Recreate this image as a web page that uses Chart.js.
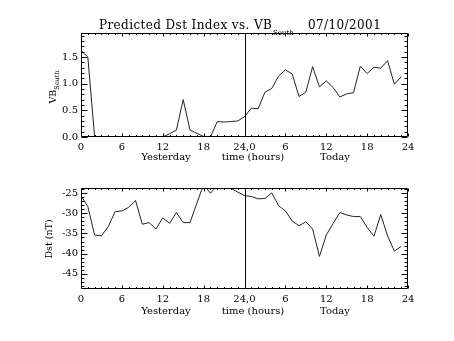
<!DOCTYPE html>
<html>
<head>
<meta charset="utf-8">
<script src="https://cdn.jsdelivr.net/npm/chart.js@4.4.1/dist/chart.umd.min.js"></script>
<style>
  body { margin: 0; background: #fff; width: 454px; height: 341px; overflow: hidden; position: relative; font-family: "DejaVu Serif", serif; color: #000; }
  .pane { position: absolute; left: 0; }
  .t { position: absolute; white-space: nowrap; line-height: 1; }
  .mid { transform: translateX(-50%); }
  .rot { transform: translate(-50%, -50%) rotate(-90deg); }
  .ttl { font-size: 12px; letter-spacing: 0.4px; }
</style>
</head>
<body>
<canvas id="vb" class="pane" style="top:0" width="454" height="170"></canvas>
<canvas id="dst" class="pane" style="top:170px" width="454" height="171"></canvas>

<div class="t ttl" style="left:99px;top:19px">Predicted Dst Index vs. VB</div>
<div class="t" style="left:273px;top:30px;font-size:7px">South</div>
<div class="t ttl" style="left:308px;top:19px">07/10/2001</div>

<div class="t rot" style="left:53px;top:87px;font-size:9.5px">VB<span style="font-size:6.5px;position:relative;top:3px">South</span></div>
<div class="t rot" style="left:49px;top:239px;font-size:9.5px">Dst (nT)</div>

<div class="t mid" style="left:166px;top:152px;font-size:10px">Yesterday</div>
<div class="t mid" style="left:253px;top:152px;font-size:10px">time (hours)</div>
<div class="t mid" style="left:335px;top:152px;font-size:10px">Today</div>
<div class="t mid" style="left:166px;top:306px;font-size:10px">Yesterday</div>
<div class="t mid" style="left:253px;top:306px;font-size:10px">time (hours)</div>
<div class="t mid" style="left:335px;top:306px;font-size:10px">Today</div>

<script>
// hours since start of yesterday
const hours = [0, 1, 2, 3, 4, 5, 6, 7, 8, 9, 10, 11, 12, 13, 14, 15, 16, 17, 18, 19, 20, 21, 22, 23,
  24, 25, 26, 27, 28, 29, 30, 31, 32, 33, 34, 35, 36, 37, 38, 39, 40, 41, 42, 43, 44, 45, 46, 47];

const vbSouth = [1.62, 1.50, 0, 0, 0, 0, 0, 0, 0, 0, 0, 0, 0, 0.06, 0.13, 0.70, 0.13, 0.07, 0.01, 0,
  0.29, 0.28, 0.29, 0.30, 0.38, 0.54, 0.53, 0.84, 0.91, 1.14, 1.26, 1.18, 0.76, 0.84, 1.32, 0.94,
  1.05, 0.93, 0.75, 0.81, 0.83, 1.33, 1.19, 1.31, 1.29, 1.43, 0.99, 1.13];

const dst = [-25.6, -28.3, -35.4, -35.6, -33.3, -29.6, -29.4, -28.5, -26.8, -32.7, -32.3, -33.9,
  -31.1, -32.5, -29.8, -32.3, -32.3, -27.5, -22.8, -25.0, -23.1, -23.0, -23.8, -24.7,
  -25.6, -25.8, -26.4, -26.3, -24.9, -28.1, -29.4, -31.9, -33.1, -32.1, -33.9, -40.7,
  -35.4, -32.5, -29.8, -30.4, -30.8, -30.8, -33.5, -35.7, -30.3, -35.6, -39.4, -38.2];

const xTicks = [0, 6, 12, 18, 24, 30, 36, 42, 48];
const xTickLabels = ['0', '6', '12', '18', '24,0', '6', '12', '18', '24'];
const vbTicks = [0, 0.5, 1.0, 1.5];
const vbTickLabels = ['0.0', '0.5', '1.0', '1.5'];
const dstTicks = [-45, -40, -35, -30, -25];
const dstTickLabels = ['-45', '-40', '-35', '-30', '-25'];

const tickFont = { family: 'DejaVu Serif', size: 10 };

// IDL style box: inward ticks on all four sides, plus the midnight line
const frame = {
  id: 'frame',
  afterDatasetsDraw(chart, args, o) {
    const { ctx, chartArea: a, scales: { x, y } } = chart;
    const L = Math.round(a.left) + 0.5, R = Math.round(a.right) - 0.5;
    const T = Math.round(a.top) + 0.5, B = Math.round(a.bottom) - 0.5;
    ctx.save();
    ctx.strokeStyle = '#000';
    ctx.lineWidth = 1;
    ctx.beginPath();
    ctx.rect(L, T, R - L, B - T);
    for (let h = 0; h <= 48; h++) {
      const px = Math.round(x.getPixelForValue(h)) + 0.5;
      const len = h % 6 === 0 ? 3 : 1.5;
      ctx.moveTo(px, B); ctx.lineTo(px, B - len);
      ctx.moveTo(px, T); ctx.lineTo(px, T + len);
    }
    for (let i = 0; i <= o.count; i++) {
      const v = o.start + i * o.step;
      const py = Math.round(y.getPixelForValue(v)) + 0.5;
      const len = i % o.every === o.offset ? 6 : 3;
      ctx.moveTo(L, py); ctx.lineTo(L + len, py);
      ctx.moveTo(R, py); ctx.lineTo(R - len, py);
    }
    const mx = Math.round(x.getPixelForValue(24)) + 0.5;
    ctx.moveTo(mx, T); ctx.lineTo(mx, B);
    ctx.stroke();
    ctx.restore();
  }
};

function makeChart(id, values, yMin, yMax, yTicks, yLabels, pad, xHeight, minor) {
  return new Chart(document.getElementById(id), {
    type: 'line',
    data: {
      datasets: [{
        data: hours.map((h, i) => ({ x: h, y: values[i] })),
        borderColor: '#222',
        borderWidth: 1,
        pointRadius: 0,
        tension: 0
      }]
    },
    options: {
      responsive: false,
      animation: false,
      layout: { padding: { top: pad, left: 0, right: 46, bottom: 0 } },
      plugins: { legend: { display: false }, tooltip: { enabled: false }, frame: minor },
      scales: {
        x: {
          type: 'linear', min: 0, max: 48,
          afterBuildTicks: s => { s.ticks = xTicks.map(v => ({ value: v })); },
          afterFit: s => { s.height = xHeight; },
          grid: { display: false, drawTicks: false },
          border: { display: false },
          ticks: { callback: (v, i) => xTickLabels[i], color: '#000', font: tickFont, padding: 4, maxRotation: 0, autoSkip: false }
        },
        y: {
          min: yMin, max: yMax,
          afterBuildTicks: s => { s.ticks = yTicks.map(v => ({ value: v })); },
          afterFit: s => { s.width = 81; },
          grid: { display: false, drawTicks: false },
          border: { display: false },
          ticks: { callback: (v, i) => yLabels[i], color: '#000', font: tickFont, padding: 3, autoSkip: false }
        }
      }
    },
    plugins: [frame]
  });
}

makeChart('vb', vbSouth, 0, 1.95, vbTicks, vbTickLabels, 33, 33,
  { start: 0, step: 0.1, count: 19, every: 5, offset: 0 });
makeChart('dst', dst, -48.8, -23.7, dstTicks, dstTickLabels, 18, 52,
  { start: -48, step: 1, count: 24, every: 5, offset: 3 });
</script>
</body>
</html>
